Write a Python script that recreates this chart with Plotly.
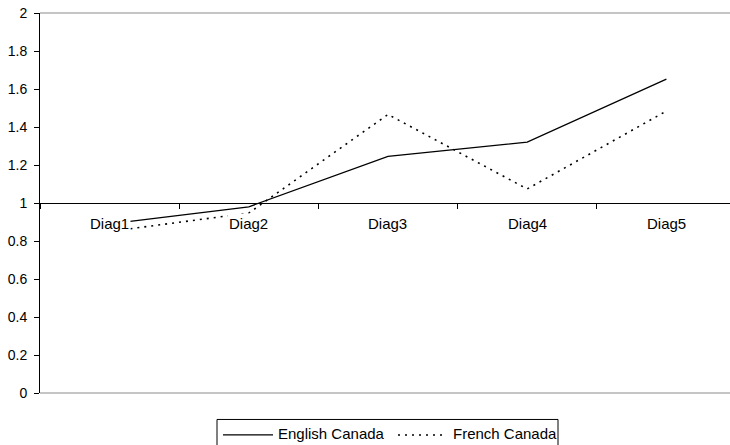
import plotly.graph_objects as go

categories = ["Diag1", "Diag2", "Diag3", "Diag4", "Diag5"]
english_canada = [0.89, 0.98, 1.245, 1.32, 1.652]
french_canada = [0.85, 0.947, 1.466, 1.074, 1.484]

y_ticks = [0, 0.2, 0.4, 0.6, 0.8, 1, 1.2, 1.4, 1.6, 1.8, 2]

FONT = "Liberation Sans, Arial, sans-serif"
W, H = 730, 445
M_L, M_R, M_T, M_B = 40, 0, 13, 51.5
PLOT_W = W - M_L - M_R
PLOT_H = H - M_T - M_B


def px_x(px):
    """pixel column -> paper x"""
    return (px - M_L) / PLOT_W


def px_y(py):
    """pixel row -> paper y"""
    return (H - M_B - py) / PLOT_H


series = [
    ("English Canada", english_canada, dict(color="black", width=1.3)),
    ("French Canada", french_canada, dict(color="black", width=1.6, dash="2px,5px")),
]

fig = go.Figure()
for name, values, line in series:
    fig.add_trace(go.Scatter(x=categories, y=values, name=name,
                             mode="lines", line=line, showlegend=False))

# category labels sit just below the axis line that crosses at y = 1,
# on an opaque background
for c in categories:
    fig.add_annotation(
        x=c, y=1, xref="x", yref="y", text=c, showarrow=False,
        yanchor="top", yshift=-10, bgcolor="white", borderpad=1,
        font=dict(size=15, color="black", family=FONT),
    )

# grey plot-area border lines at top and bottom
for yy in (0, 1):
    fig.add_shape(type="line", xref="x domain", yref="y domain",
                  x0=0, x1=1, y0=yy, y1=yy,
                  line=dict(color="#8c8c8c", width=1.2), layer="below")

# boxed legend under the plot: line sample followed by the series name
fig.add_shape(type="rect", xref="paper", yref="paper",
              x0=px_x(217), x1=px_x(558), y0=px_y(420), y1=px_y(452),
              line=dict(color="black", width=1), fillcolor="white")
legend_slots = [(223, 273, 277), (398, 447, 452)]
for (name, _, line), (s0, s1, tx) in zip(series, legend_slots):
    fig.add_shape(type="line", xref="paper", yref="paper",
                  x0=px_x(s0), x1=px_x(s1), y0=px_y(435.5), y1=px_y(435.5),
                  line=line)
    fig.add_annotation(x=px_x(tx), y=px_y(434.5), xref="paper", yref="paper",
                       text=name, showarrow=False, xanchor="left",
                       yanchor="middle", borderpad=0,
                       font=dict(size=15, color="black", family=FONT))

fig.update_layout(
    width=W, height=H,
    margin=dict(l=M_L, r=M_R, t=M_T, b=M_B, autoexpand=False),
    paper_bgcolor="white", plot_bgcolor="white",
    font=dict(family=FONT, size=14, color="black"),
    showlegend=False,
    xaxis=dict(
        type="category", range=[-0.5, 4.457],
        anchor="free", position=0.5,
        showline=True, linecolor="black", linewidth=1,
        ticks="outside", ticklen=5, tickcolor="black", tickson="boundaries",
        showticklabels=False, showgrid=False, zeroline=False,
    ),
    yaxis=dict(
        range=[0, 2], tickvals=y_ticks,
        showline=True, linecolor="black", linewidth=1,
        ticks="outside", ticklen=5, tickcolor="black",
        ticklabelstandoff=4,
        showgrid=False, zeroline=False,
        tickfont=dict(size=14, family=FONT),
    ),
)

fig.write_html("out.html")
